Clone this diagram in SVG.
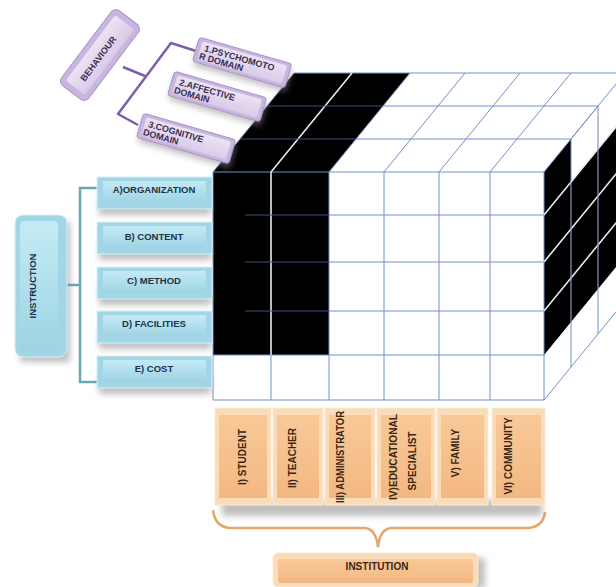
<svg xmlns="http://www.w3.org/2000/svg" width="616" height="587" viewBox="0 0 616 587">
<defs>
<linearGradient id="gBlue" x1="0" y1="0" x2="0" y2="1"><stop offset="0" stop-color="#c4ebf5"/><stop offset="1" stop-color="#9ed3e3"/></linearGradient>
<linearGradient id="gOr" x1="0" y1="0" x2="0" y2="1"><stop offset="0" stop-color="#f8c998"/><stop offset="1" stop-color="#f3b882"/></linearGradient>
<linearGradient id="gPu" x1="0" y1="0" x2="0" y2="1"><stop offset="0" stop-color="#ebe3f4"/><stop offset="1" stop-color="#d9cbe9"/></linearGradient>
<filter id="blur" x="-20%" y="-50%" width="140%" height="200%"><feGaussianBlur stdDeviation="3"/></filter>
<style>
.grid{stroke:#7391c9;stroke-width:1;fill:none}
.wl{stroke:#e4eaf4;stroke-width:1.6;fill:none}
.dl{stroke:#3a4e7a;stroke-width:1;fill:none}
.gl{stroke:#8a98b6;stroke-width:1.2;fill:none}
.blk{fill:#000}
.ibo{fill:#a2d6e6;stroke:#d6f0f7;stroke-width:1}
.ibi{fill:url(#gBlue)}
.obo{fill:#fbdcb9;stroke:#fde9d4;stroke-width:1}
.obi{fill:url(#gOr)}
.pbo{fill:#c9b6df;stroke:#a993c8;stroke-width:1}
.pbi{fill:url(#gPu)}
.sh{fill:#8a8a8a;opacity:0.55;filter:url(#blur)}
.t{font-family:"Liberation Sans",Arial,sans-serif;font-weight:bold}
.it{font-size:9.5px;fill:#22324a;text-anchor:middle}
.ot{font-size:10px;fill:#3b2614;text-anchor:middle}
.pt{font-size:9px;fill:#3a2e50}
.brP{stroke:#7c5fa8;stroke-width:2.5;fill:none;stroke-linejoin:round}
.brB{stroke:#6aa6b6;stroke-width:2.5;fill:none}
.brO{stroke:#e4a86c;stroke-width:2.5;fill:none}
</style>
</defs>
<rect width="616" height="587" fill="#fff"/>

<g id="cube">
  <rect class="blk" x="213" y="172" width="116" height="183"/>
  <polygon class="blk" points="213,172 329,172 410,73 294,73"/>
  <polygon class="blk" points="544,172 571,139 571,322 544,355"/>
  <polygon class="blk" points="571,182 625,116 625,256 571,322"/>
  <path class="grid" d="M213,172V400M329,172V400M384,172V400M439,172V400M490,172V400M544,172V400M271,355V400"/>
  <path class="grid" d="M213,172H544M329,215H544M329,262H544M329,311H544M213,355H544M213,400H544"/>
  <path class="grid" d="M213,172L294,73M329,172L410,73M384,172L465,73M439,172L520,73M490,172L571,73M544,172L625,73"/>
  <path class="grid" d="M356,139H571M383,106H598M294,73H625"/>
  <path class="grid" d="M571,322V367M598,106V116M598,289V334M544,400L625,301M571,139L571,182"/>
  <path class="grid" d="M571,139L598,106"/>
  <path class="wl" d="M271,172V355M271,172L352,73"/>
  <path class="dl" d="M245,215H329M245,262H329M245,311H329M240,139H356M267,106H383"/>
  <path class="wl" d="M544,215L625,116M544,262L625,163M544,311L625,212"/>
  <path class="gl" d="M571,182V322M598,116V289"/>
</g>

<g id="connectors">
  <path class="brP" d="M196,51L171,43L118,114L138,125M123,67L145,76"/>
  <path class="brB" d="M97,188H80V382H97M67,285H80"/>
  <path class="brO" d="M213,510Q215,528 232,528H365Q376,529 378,547Q380,529 391,528H526Q543,528 545,512"/>
</g>

<g id="behaviour" transform="translate(100,55) rotate(-53)">
  <rect class="pbo" x="-47" y="-17" width="94" height="34" rx="6"/>
  <rect class="pbi" x="-41" y="-12" width="82" height="24" rx="3"/>
  <text class="t pt" x="-4" y="4" text-anchor="middle" font-size="10.5">BEHAVIOUR</text>
</g>
<g id="domain3" transform="translate(186,139) rotate(16)">
  <rect class="sh" x="-46" y="-8" width="96" height="24"/>
  <rect class="pbo" x="-48" y="-13" width="96" height="25" rx="3"/>
  <rect class="pbi" x="-44" y="-10" width="88" height="19" rx="2"/>
  <text class="t pt" x="-40" y="-1">3.COGNITIVE</text>
  <text class="t pt" x="-43" y="8">DOMAIN</text>
</g>
<g id="domain2" transform="translate(217,97) rotate(16)">
  <rect class="sh" x="-46" y="-8" width="96" height="24"/>
  <rect class="pbo" x="-48" y="-13" width="96" height="25" rx="3"/>
  <rect class="pbi" x="-44" y="-10" width="88" height="19" rx="2"/>
  <text class="t pt" x="-40" y="-1">2.AFFECTIVE</text>
  <text class="t pt" x="-43" y="8">DOMAIN</text>
</g>
<g id="domain1" transform="translate(242,63) rotate(16)">
  <rect class="sh" x="-46" y="-8" width="96" height="24"/>
  <rect class="pbo" x="-48" y="-13" width="96" height="25" rx="3"/>
  <rect class="pbi" x="-44" y="-10" width="88" height="19" rx="2"/>
  <text class="t pt" x="-40" y="-1">1.PSYCHOMOTO</text>
  <text class="t pt" x="-43" y="8">R DOMAIN</text>
</g>

<g id="instruction">
  <rect class="sh" x="20" y="222" width="50" height="140"/>
  <rect class="ibo" x="15" y="215" width="52" height="142" rx="8"/>
  <rect class="ibi" x="20" y="221" width="38" height="130" rx="4"/>
  <text class="t it" font-size="9" transform="translate(36,286) rotate(-90)">INSTRUCTION</text>
</g>
<g id="inA"><rect class="sh" x="99" y="195" width="112" height="20"/><rect class="ibo" x="97" y="177" width="115" height="32"/><rect class="ibi" x="103" y="181" width="103" height="22"/><text class="t it" x="154" y="193">A)ORGANIZATION</text></g>
<g id="inB"><rect class="sh" x="99" y="240" width="112" height="20"/><rect class="ibo" x="97" y="222" width="115" height="32"/><rect class="ibi" x="103" y="226" width="103" height="22"/><text class="t it" x="154" y="240">B) CONTENT</text></g>
<g id="inC"><rect class="sh" x="99" y="285" width="112" height="20"/><rect class="ibo" x="97" y="267" width="115" height="32"/><rect class="ibi" x="103" y="271" width="103" height="22"/><text class="t it" x="154" y="284">C) METHOD</text></g>
<g id="inD"><rect class="sh" x="99" y="329" width="112" height="20"/><rect class="ibo" x="97" y="311" width="115" height="32"/><rect class="ibi" x="103" y="315" width="103" height="22"/><text class="t it" x="154" y="327">D) FACILITIES</text></g>
<g id="inE"><rect class="sh" x="99" y="374" width="112" height="20"/><rect class="ibo" x="97" y="356" width="115" height="32"/><rect class="ibi" x="103" y="360" width="103" height="22"/><text class="t it" x="154" y="372">E) COST</text></g>

<rect class="sh" x="222" y="500" width="320" height="16"/>
<g id="c1"><rect class="obo" x="215" y="408" width="56" height="97"/><rect class="obi" x="219" y="415" width="48" height="83"/><text class="t ot" transform="translate(246,457) rotate(-90)">I) STUDENT</text></g>
<g id="c2"><rect class="obo" x="273" y="408" width="50" height="97"/><rect class="obi" x="277" y="415" width="42" height="83"/><text class="t ot" transform="translate(296,458) rotate(-90)">II) TEACHER</text></g>
<g id="c3"><rect class="obo" x="325" y="408" width="50" height="97"/><rect class="obi" x="329" y="415" width="42" height="83"/><text class="t ot" font-size="9.5" textLength="92" lengthAdjust="spacingAndGlyphs" transform="translate(344,457) rotate(-90)">III) ADMINISTRATOR</text></g>
<g id="c4"><rect class="obo" x="377" y="408" width="58" height="97"/><rect class="obi" x="381" y="415" width="50" height="83"/><text class="t ot" font-size="9.5" textLength="86" lengthAdjust="spacingAndGlyphs" transform="translate(397,457) rotate(-90)">IV)EDUCATIONAL</text><text class="t ot" transform="translate(416,461) rotate(-90)">SPECIALIST</text></g>
<g id="c5"><rect class="obo" x="437" y="408" width="51" height="97"/><rect class="obi" x="441" y="415" width="43" height="83"/><text class="t ot" transform="translate(459,453) rotate(-90)">V) FAMILY</text></g>
<g id="c6"><rect class="obo" x="492" y="408" width="53" height="97"/><rect class="obi" x="496" y="415" width="45" height="83"/><text class="t ot" transform="translate(512,456) rotate(-90)">VI) COMMUNITY</text></g>

<g id="institution">
  <rect class="sh" x="280" y="558" width="205" height="30"/>
  <rect class="obo" x="273" y="553" width="205" height="34" rx="5"/>
  <rect class="obi" x="278" y="559" width="195" height="24" rx="3"/>
  <text class="t ot" x="377" y="570" font-size="11">INSTITUTION</text>
</g>
</svg>
